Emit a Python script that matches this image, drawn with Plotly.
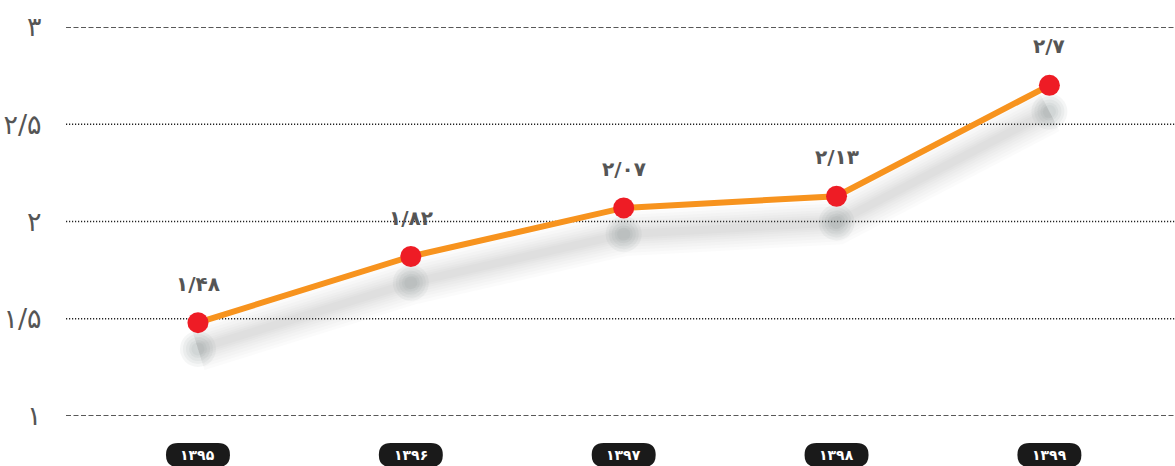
import plotly.graph_objects as go

years = ["۱۳۹۵", "۱۳۹۶", "۱۳۹۷", "۱۳۹۸", "۱۳۹۹"]
values = [1.48, 1.82, 2.07, 2.13, 2.7]
value_labels = ["۱/۴۸", "۱/۸۲", "۲/۰۷", "۲/۱۳", "۲/۷"]
ytick_vals = [1, 1.5, 2, 2.5, 3]
ytick_text = ["۱", "۱/۵", "۲", "۲/۵", "۳"]

xs = list(range(len(years)))
shadow_offset = 0.135

fig = go.Figure()

# soft blurred shadow below the line
shadow_y = [v - shadow_offset for v in values]
for w in [44, 38, 32, 26, 21, 16, 12, 8]:
    fig.add_trace(go.Scatter(x=xs, y=shadow_y, mode="lines",
                             line=dict(color="rgba(130,132,138,0.032)", width=w),
                             hoverinfo="skip", showlegend=False))
for s in [36, 30, 24, 18, 13]:
    fig.add_trace(go.Scatter(x=xs, y=shadow_y, mode="markers",
                             marker=dict(color="rgba(110,115,120,0.065)", size=s, line=dict(width=0)),
                             hoverinfo="skip", showlegend=False))

fig.add_trace(go.Scatter(x=xs, y=values, mode="lines+markers",
                         line=dict(color="#F7931E", width=6),
                         marker=dict(color="#EE1C25", size=21, line=dict(width=0)),
                         hoverinfo="skip", showlegend=False))

shapes = []
for v in ytick_vals:
    major = v in (1, 3)
    shapes.append(dict(type="line", xref="paper", x0=0, x1=1, yref="y", y0=v, y1=v,
                       line=dict(color="#222", width=1.3 if major else 1.5,
                                 dash="5px,2.5px" if major else "1.2px,1.8px"),
                       layer="below"))

annotations = []
for i, (v, t) in enumerate(zip(values, value_labels)):
    annotations.append(dict(x=i, y=v, xref="x", yref="y", text=f"<b>{t}</b>", showarrow=False,
                            xanchor="center", yanchor="middle",
                            yshift=39, font=dict(family="DejaVu Sans", size=20, color="#555")))

pill_w, pill_h, r = 64, 24, 12
hw, hh = pill_w / 2, pill_h / 2
path = (f"M {-hw + r},{-hh} L {hw - r},{-hh} Q {hw},{-hh} {hw},{0} Q {hw},{hh} {hw - r},{hh} "
        f"L {-hw + r},{hh} Q {-hw},{hh} {-hw},{0} Q {-hw},{-hh} {-hw + r},{-hh} Z")
pill_y = -39 / 389
for i, yr in enumerate(years):
    shapes.append(dict(type="path", xref="x", yref="paper", xsizemode="pixel", ysizemode="pixel",
                       xanchor=i, yanchor=pill_y, path=path, fillcolor="#1a1a1a",
                       line=dict(width=0), layer="above"))
    annotations.append(dict(x=i, y=pill_y, xref="x", yref="paper", text=f"<b>{yr}</b>",
                            showarrow=False, xanchor="center", yanchor="middle",
                            font=dict(family="DejaVu Sans", size=14, color="white")))

fig.update_layout(
    width=1175, height=466,
    margin=dict(l=66, r=0, t=27, b=50),
    paper_bgcolor="white", plot_bgcolor="white",
    shapes=shapes, annotations=annotations,
    xaxis=dict(range=[-0.62, 4.59], showgrid=False, zeroline=False, showticklabels=False,
               showline=False, ticks=""),
    yaxis=dict(range=[1, 3], tickvals=ytick_vals, ticktext=ytick_text, showgrid=False,
               zeroline=False, showline=False, ticks="outside", ticklen=18,
               tickcolor="rgba(0,0,0,0)",
               tickfont=dict(family="DejaVu Sans", size=27, color="#555")),
)

fig.write_html("out.html", config={"displayModeBar": False, "staticPlot": True})
with open("out.html", "r", encoding="utf-8") as f:
    html = f.read()
html = html.replace("<head>", "<head><style>html,body{margin:0;padding:0;overflow:hidden;}</style>", 1)
with open("out.html", "w", encoding="utf-8") as f:
    f.write(html)
